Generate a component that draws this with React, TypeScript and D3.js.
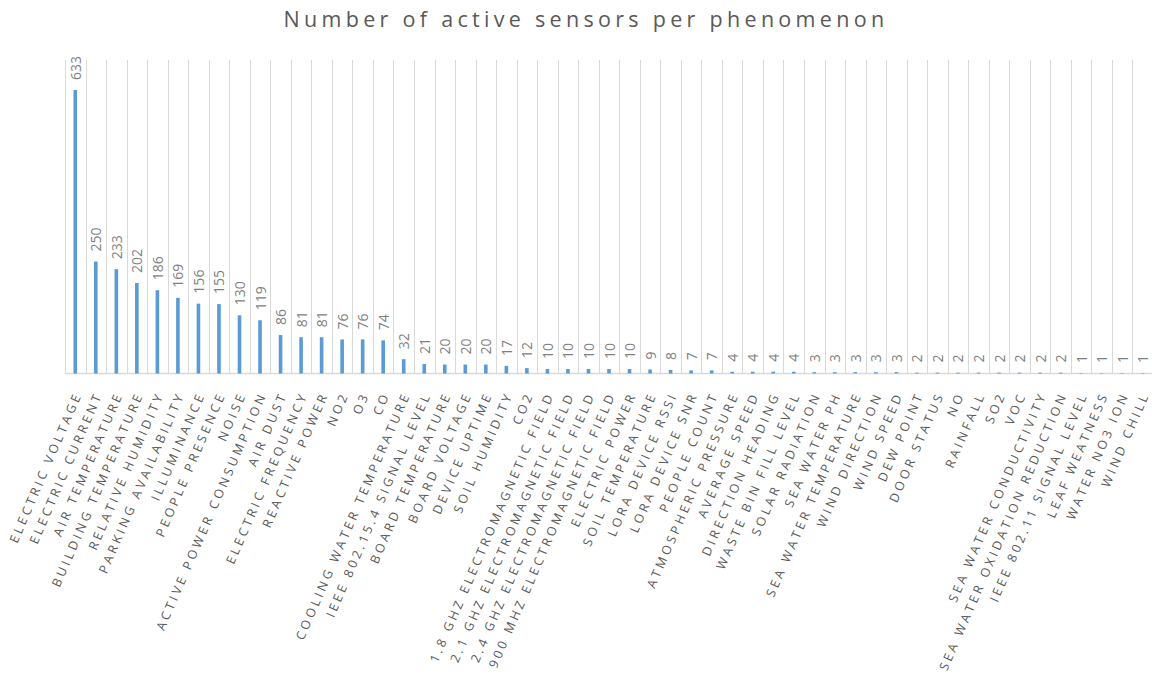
import React from "react";
import * as d3 from "d3";

const title = "Number of active sensors per phenomenon";

const categories: string[] = [
  "ELECTRIC VOLTAGE", "ELECTRIC CURRENT", "AIR TEMPERATURE", "BUILDING TEMPERATURE",
  "RELATIVE HUMIDITY", "PARKING AVAILABILITY", "ILLUMINANCE", "PEOPLE PRESENCE", "NOISE",
  "ACTIVE POWER CONSUMPTION", "AIR DUST", "ELECTRIC FREQUENCY", "REACTIVE POWER", "NO2",
  "O3", "CO", "COOLING WATER TEMPERATURE", "IEEE 802.15.4 SIGNAL LEVEL", "BOARD TEMPERATURE",
  "BOARD VOLTAGE", "DEVICE UPTIME", "SOIL HUMIDITY", "CO2", "1.8 GHZ ELECTROMAGNETIC FIELD",
  "2.1 GHZ ELECTROMAGNETIC FIELD", "2.4 GHZ ELECTROMAGNETIC FIELD", "900 MHZ ELECTROMAGNETIC FIELD",
  "ELECTRIC POWER", "SOIL TEMPERATURE", "LORA DEVICE RSSI", "LORA DEVICE SNR", "PEOPLE COUNT",
  "ATMOSPHERIC PRESSURE", "AVERAGE SPEED", "DIRECTION HEADING", "WASTE BIN FILL LEVEL",
  "SOLAR RADIATION", "SEA WATER PH", "SEA WATER TEMPERATURE", "WIND DIRECTION", "WIND SPEED",
  "DEW POINT", "DOOR STATUS", "NO", "RAINFALL", "SO2", "VOC", "SEA WATER CONDUCTIVITY",
  "SEA WATER OXIDATION REDUCTION", "IEEE 802.11 SIGNAL LEVEL", "LEAF WEATNESS", "WATER NO3 ION",
  "WIND CHILL",
];

const values: number[] = [
  633, 250, 233, 202, 186, 169, 156, 155, 130, 119, 86, 81, 81, 76, 76, 74,
  32, 21, 20, 20, 20, 17, 12, 10, 10, 10, 10, 10, 9, 8, 7, 7,
  4, 4, 4, 4, 3, 3, 3, 3, 3, 2, 2, 2, 2, 2, 2, 2, 2, 1, 1, 1, 1,
];

const yDomain: [number, number] = [0, 700];

const W = 1152;
const H = 682;
const plotLeft = 65;
const plotRight = 1153;
const plotTop = 60;
const plotBottom = 373.5;

export default function App() {
  const x = d3.scaleBand<string>().domain(categories).range([plotLeft, plotRight]).paddingInner(0).paddingOuter(0);
  const y = d3.scaleLinear().domain(yDomain).range([plotBottom, plotTop]);
  const step = x.step();
  const barW = 3.6;
  const boundaries = d3.range(categories.length + 1).map((i) => plotLeft + i * step);

  return (
    <div style={{ position: "fixed", left: 0, top: 0 }}>
      <svg width={W} height={H} style={{ display: "block", background: "#fff" }}>
        <text
          x={W / 2 + 10}
          y={27}
          textAnchor="middle"
          fontFamily="'Open Sans', sans-serif"
          fontSize={21.5}
          letterSpacing={4.3}
          fill="#595959"
        >
          {title}
        </text>
        {boundaries.map((bx, i) => (
          <line key={"g" + i} x1={Math.round(bx) + 0.5} x2={Math.round(bx) + 0.5} y1={plotTop} y2={plotBottom} stroke="#D9D9D9" strokeWidth={1} />
        ))}
        <line x1={plotLeft} x2={plotRight} y1={plotBottom} y2={plotBottom} stroke="#D9D9D9" strokeWidth={1.5} />
        {categories.map((c, i) => {
          const cx = (x(c) as number) + step / 2;
          const v = values[i];
          return (
            <g key={c}>
              <rect x={cx - barW / 2} y={y(v)} width={barW} height={plotBottom - y(v)} fill="#5B9BD5" />
              <text
                transform={`translate(${cx},${y(v) - 10}) rotate(-90)`}
                textAnchor="start"
                dominantBaseline="central"
                fontFamily="'Open Sans', sans-serif"
                fontSize={14}
                fill="#7F7F7F"
              >
                {v}
              </text>
              <text
                transform={`translate(${cx + 3},${plotBottom + 19}) rotate(-66.5)`}
                textAnchor="end"
                dy="0.35em"
                fontFamily="'Open Sans', sans-serif"
                fontSize={12.5}
                letterSpacing={3.2}
                fill="#595959"
              >
                {c}
              </text>
            </g>
          );
        })}
      </svg>
    </div>
  );
}
